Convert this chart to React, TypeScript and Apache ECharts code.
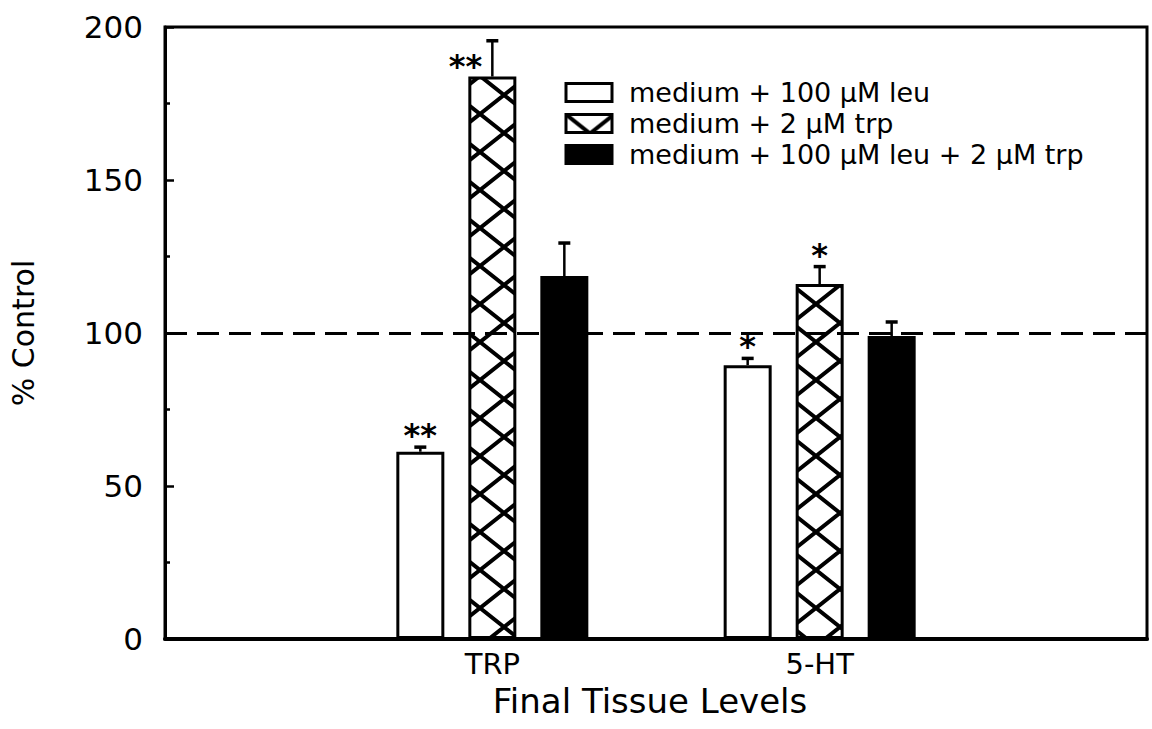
import React, { useEffect, useRef } from 'react';
import * as echarts from 'echarts';

const categories = ['TRP', '5-HT'];
const seriesNames = ['medium + 100 μM leu', 'medium + 2 μM trp', 'medium + 100 μM leu + 2 μM trp'];
const leuValues = [61.2, 89.5];
const trpValues = [183.8, 116.0];
const bothValues = [118.6, 99.0];
const leuErrors = [1.5, 2.2];
const trpErrors = [11.7, 5.7];
const bothErrors = [10.8, 4.6];
const leuStars = ['**', '*'];
const trpStars = ['**', '*'];
const bothStars = ['', ''];
const leuStarPlacement = ['top', 'top'];
const trpStarPlacement = ['left', 'top'];
const bothStarPlacement = ['top', 'top'];
const yTicks = [0, 50, 100, 150, 200];
const controlLevel = 100;
const xTitle = 'Final Tissue Levels';
const yTitle = '% Control';

const FONT = 'DejaVu Sans';
const BAR_W = 48;
const BAR_GAP = 0.5;

export default function App() {
  const ref = useRef<HTMLDivElement>(null);

  useEffect(() => {
    if (!ref.current) return;
    const chart = echarts.init(ref.current, undefined, { renderer: 'svg' });

    // cross-hatch tile
    const tw = 48;
    const th = 38;
    const cv = document.createElement('canvas');
    cv.width = tw;
    cv.height = th;
    const ctx = cv.getContext('2d')!;
    ctx.fillStyle = '#fff';
    ctx.fillRect(0, 0, tw, th);
    ctx.strokeStyle = '#000';
    ctx.lineWidth = 4;
    for (const dx of [-tw, 0, tw]) {
      for (const dy of [-th, 0, th]) {
        ctx.beginPath();
        ctx.moveTo(dx, dy);
        ctx.lineTo(dx + tw, dy + th);
        ctx.moveTo(dx + tw, dy);
        ctx.lineTo(dx, dy + th);
        ctx.stroke();
      }
    }
    const hatch: any = {
      image: cv,
      repeat: 'repeat',
      imageWidth: tw,
      imageHeight: th,
      scaleX: 0.975,
      y: -7,
    };

    const axisData = ['', ...categories, ''];
    const pad = (arr: number[]) => [null, ...arr, null];

    const groups = [
      { values: leuValues, errors: leuErrors, stars: leuStars, place: leuStarPlacement },
      { values: trpValues, errors: trpErrors, stars: trpStars, place: trpStarPlacement },
      { values: bothValues, errors: bothErrors, stars: bothStars, place: bothStarPlacement },
    ];
    const errData: number[][] = [];
    const errMeta: { s: number; star: string; place: string }[] = [];
    groups.forEach((g, s) => {
      g.values.forEach((v, c) => {
        errData.push([c + 1, v, v + g.errors[c]]);
        errMeta.push({ s, star: g.stars[c], place: g.place[c] });
      });
    });

    const fills = ['#fff', hatch, '#000'];

    const barSeries = groups.map((g, s) => ({
      name: seriesNames[s],
      type: 'bar',
      data: pad(g.values),
      barWidth: BAR_W,
      barGap: `${BAR_GAP * 100}%`,
      itemStyle: { color: fills[s], borderColor: '#000', borderWidth: 3 },
      z: 2,
      ...(s === 0
        ? {
            markLine: {
              silent: true,
              symbol: ['none', 'none'],
              label: { show: false },
              lineStyle: { color: '#000', width: 3, type: [22, 10] },
              data: [{ yAxis: controlLevel }],
              z: 6,
            },
          }
        : {}),
    }));

    const option: any = {
      animation: false,
      backgroundColor: '#fff',
      grid: {
        left: 164,
        right: 5,
        top: 27,
        bottom: 90,
        show: true,
        borderColor: '#000',
        borderWidth: 3,
        backgroundColor: 'transparent',
      },
      legend: {
        data: seriesNames,
        orient: 'vertical',
        left: 559.5,
        top: 74,
        itemWidth: 46,
        itemHeight: 18,
        itemGap: 4,
        icon: 'rect',
        selectedMode: false,
        itemStyle: { borderWidth: 3, borderColor: '#000' },
        textStyle: {
          fontSize: 27,
          fontFamily: FONT,
          color: '#000',
          lineHeight: 27,
          padding: [0, 0, 0, 12],
        },
      },
      xAxis: {
        type: 'category',
        data: axisData,
        boundaryGap: false,
        axisLine: { lineStyle: { color: '#000', width: 4 } },
        axisTick: { show: false },
        axisLabel: { fontSize: 29, fontFamily: FONT, color: '#000', margin: 10, interval: 0 },
        splitLine: { show: false },
        name: xTitle,
        nameLocation: 'middle',
        nameGap: 45,
        nameTextStyle: { fontSize: 34, fontFamily: FONT, color: '#000', padding: [0, 12, 0, 0] },
      },
      yAxis: {
        type: 'value',
        min: yTicks[0],
        max: yTicks[yTicks.length - 1],
        interval: yTicks[1] - yTicks[0],
        axisLine: { show: true, lineStyle: { color: '#000', width: 3 } },
        axisTick: { show: true, inside: true, length: 9, lineStyle: { color: '#000', width: 2.5 } },
        minorTick: { show: true, splitNumber: 2, length: 5, lineStyle: { color: '#000', width: 2.5 } },
        splitLine: { show: false },
        minorSplitLine: { show: false },
        axisLabel: { fontSize: 31, fontFamily: FONT, color: '#000', margin: 22 },
        name: yTitle,
        nameLocation: 'middle',
        nameGap: 127,
        nameRotate: 90,
        nameTextStyle: { fontSize: 30, fontFamily: FONT, color: '#000' },
      },
      series: [
        ...barSeries,
        {
          type: 'custom',
          name: 'errors',
          coordinateSystem: 'cartesian2d',
          silent: true,
          z: 7,
          encode: { x: 0, y: [1, 2] },
          data: errData,
          renderItem: (params: any, api: any) => {
            const meta = errMeta[params.dataIndex];
            const cx = api.coord([api.value(0), api.value(1)])[0];
            const x = cx + (meta.s - 1) * BAR_W * (1 + BAR_GAP);
            const top = api.coord([api.value(0), api.value(1)])[1];
            const cap = api.coord([api.value(0), api.value(2)])[1];
            const children: any[] = [
              { type: 'line', shape: { x1: x, y1: top, x2: x, y2: cap }, style: { stroke: '#000', lineWidth: 2.5 } },
              { type: 'line', shape: { x1: x - 6, y1: cap, x2: x + 6, y2: cap }, style: { stroke: '#000', lineWidth: 3.5 } },
            ];
            if (meta.star) {
              const isLeft = meta.place === 'left';
              children.push({
                type: 'text',
                x: isLeft ? x - 10 : x,
                y: isLeft ? cap + 19 + 6 : cap - 18 + 6,
                style: {
                  text: meta.star,
                  fontSize: 32,
                  fontWeight: 'bold',
                  fontFamily: FONT,
                  fill: '#000',
                  align: isLeft ? 'right' : 'center',
                  verticalAlign: 'middle',
                },
              });
            }
            return { type: 'group', children };
          },
        },
      ],
    };

    chart.setOption(option);
    return () => chart.dispose();
  }, []);

  return (
    <div
      ref={ref}
      style={{ position: 'absolute', left: 0, top: 0, width: 1152, height: 729, background: '#fff' }}
    />
  );
}
